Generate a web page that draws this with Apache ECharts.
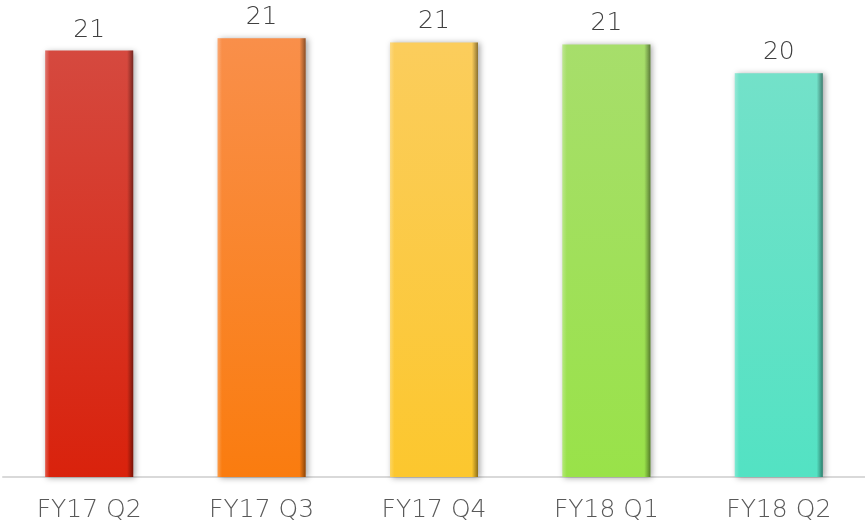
<!DOCTYPE html>
<html>
<head>
<meta charset="utf-8">
<script src="https://cdn.jsdelivr.net/npm/echarts@6/dist/echarts.min.js"></script>
<style>
  html, body { margin: 0; padding: 0; background: #fff; }
  #chart { width: 865px; height: 526px; }
</style>
</head>
<body>
<div id="chart"></div>
<script>
// quarters and values
var quarters = ["FY17 Q2", "FY17 Q3", "FY17 Q4", "FY18 Q1", "FY18 Q2"];
var values = [20.8, 21.4, 21.2, 21.1, 19.7];
// gradient colours per bar, top then bottom
var topColors = ["#d5493f", "#f98f4a", "#fbcd5c", "#a7de6b", "#73e1c9"];
var bottomColors = ["#d9220c", "#fa7c0f", "#fcc72e", "#99e249", "#53e2c3"];

var chart = echarts.init(document.getElementById("chart"));

var barData = values.map(function (v, i) {
  return {
    value: v,
    itemStyle: {
      color: new echarts.graphic.LinearGradient(0, 0, 0, 1, [
        { offset: 0, color: topColors[i] },
        { offset: 1, color: bottomColors[i] }
      ])
    }
  };
});

// bevel look: light left edge, dark right edge, on top of each bar
var bevel = new echarts.graphic.LinearGradient(0, 0, 1, 0, [
  { offset: 0, color: "rgba(255,255,255,0.25)" },
  { offset: 0.05, color: "rgba(255,255,255,0)" },
  { offset: 0.93, color: "rgba(0,0,0,0)" },
  { offset: 0.97, color: "rgba(0,0,0,0.25)" },
  { offset: 1, color: "rgba(0,0,0,0.45)" }
]);

var textFont = {
  fontFamily: "DejaVu Sans",
  fontWeight: 200,
  fontSize: 25
};

chart.setOption({
  animation: false,
  grid: { left: 3, right: 0, top: 26, bottom: 49 },
  xAxis: {
    type: "category",
    data: quarters,
    axisTick: { show: false },
    axisLine: { lineStyle: { color: "#d9d9d9", width: 2 } },
    axisLabel: Object.assign({ color: "#595959", margin: 21 }, textFont)
  },
  yAxis: {
    type: "value",
    min: 0,
    max: 22,
    show: false,
    splitLine: { show: false }
  },
  series: [
    {
      type: "bar",
      data: barData,
      barWidth: 88,
      itemStyle: {
        shadowColor: "rgba(0,0,0,0.35)",
        shadowBlur: 6,
        shadowOffsetX: 2,
        shadowOffsetY: 1
      },
      label: Object.assign({
        show: true,
        position: "top",
        distance: 8,
        color: "#404040",
        formatter: function (p) { return Math.round(p.value); }
      }, textFont)
    },
    {
      type: "bar",
      data: values,
      barWidth: 88,
      barGap: "-100%",
      silent: true,
      itemStyle: { color: bevel },
      z: 3
    }
  ]
});
</script>
</body>
</html>
